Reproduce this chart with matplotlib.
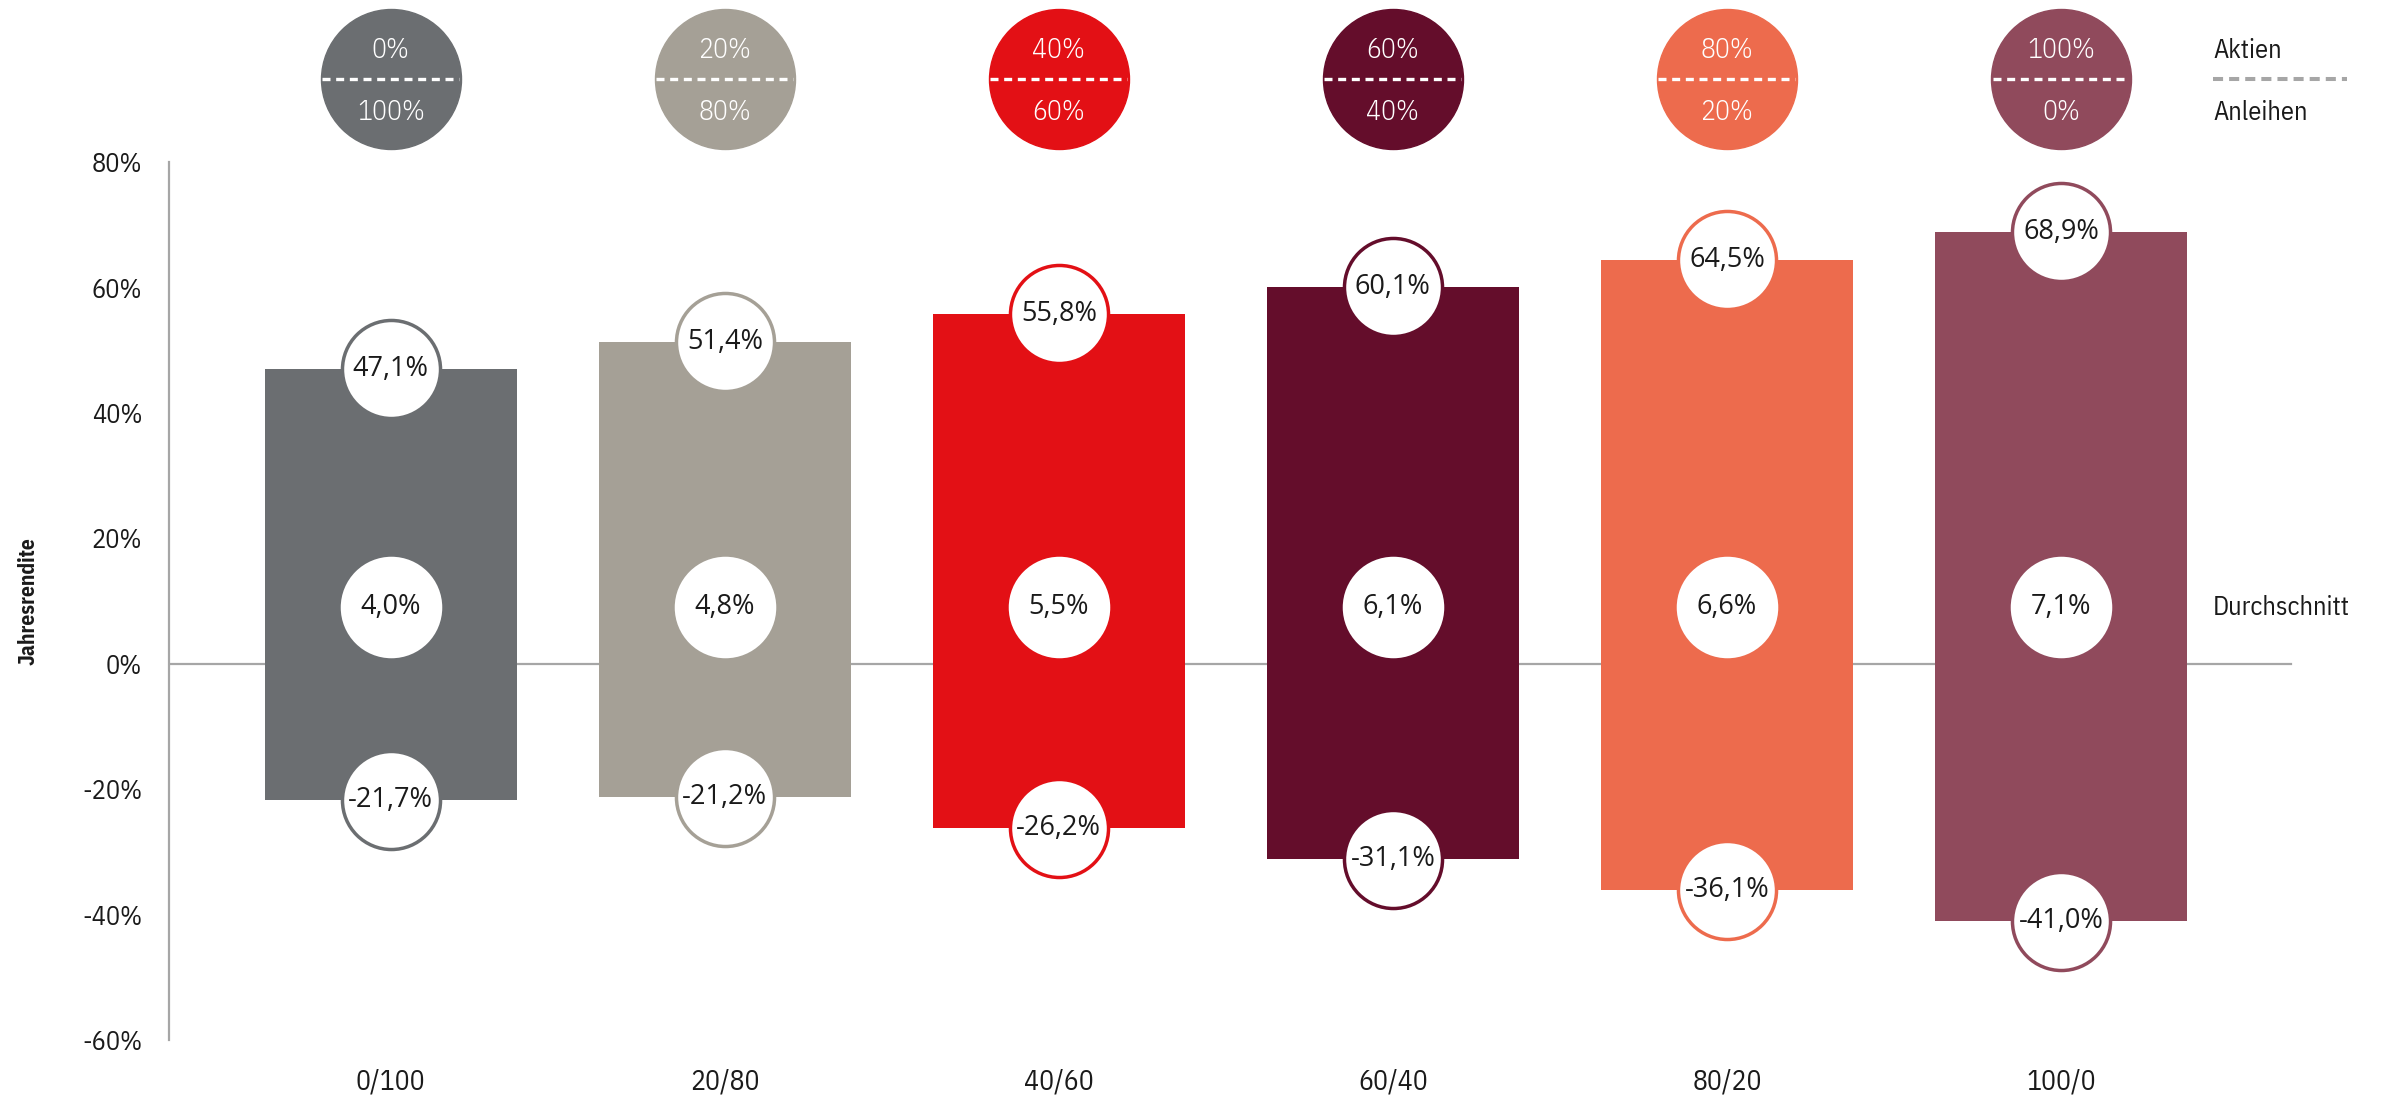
import numpy as np
from matplotlib import pyplot as plt

# data
mixes = ["0/100", "20/80", "40/60", "60/40", "80/20", "100/0"]
stocks = ["0%", "20%", "40%", "60%", "80%", "100%"]
bonds = ["100%", "80%", "60%", "40%", "20%", "0%"]
best = [47.1, 51.4, 55.8, 60.1, 64.5, 68.9]
avg = [4.0, 4.8, 5.5, 6.1, 6.6, 7.1]
worst = [-21.7, -21.2, -26.2, -31.1, -36.1, -41.0]
colors = ["#6b6e71", "#a5a096", "#e31015", "#640d2b", "#ed6b4d", "#904a5c"]
yticks = [-60, -40, -20, 0, 20, 40, 60, 80]

def pct(v):
    return ("%.1f%%" % v).replace(".", ",")

cond = ["IBM Plex Sans Condensed", "DejaVu Sans"]
plain = ["Open Sans", "DejaVu Sans"]
grey = "#a6a6a6"
ink = "#1a1a1a"

fig = plt.figure(figsize=(23.82, 11.02), dpi=100)
ax = fig.add_axes([0.0708, 0, 0.9292, 1])
ax.set_xlim(-0.665, 5.961)
ax.set_ylim(-69.9, 105.9)

x = np.arange(len(mixes))
ax.bar(x, best, width=0.753, color=colors, zorder=2)
ax.bar(x, worst, width=0.753, color=colors, zorder=2)

# zero line and y axis
ax.plot([-0.665, 5.689], [0, 0], color=grey, lw=1.6, zorder=1)
for s in ["top", "right", "bottom"]:
    ax.spines[s].set_visible(False)
ax.spines["left"].set_color(grey)
ax.spines["left"].set_linewidth(1.6)
ax.spines["left"].set_bounds(-60, 80)
ax.set_xticks([])
ax.set_yticks(yticks)
ax.set_yticklabels(["%d%%" % t for t in yticks], fontsize=19, family=cond, color=ink)
ax.tick_params(axis="y", length=0, pad=19)

avg_y = 9.0
top_y = 93.3
for i in range(len(mixes)):
    c = colors[i]
    # value circles
    for yv, lab, ec in [(best[i], pct(best[i]), c), (worst[i], pct(worst[i]), c), (avg_y, pct(avg[i]), "white")]:
        ax.plot(x[i], yv, "o", ms=70.6, mfc="white", mec=ec, mew=2.5, zorder=3)
        ax.text(x[i], yv, lab, ha="center", va="center", fontsize=19.5, family=plain, color=ink, zorder=4)
    # allocation circles on top
    ax.plot(x[i], top_y, "o", ms=100.8, mfc=c, mec=c, zorder=3)
    ax.plot([x[i] - 0.205, x[i] + 0.205], [top_y, top_y], color="white", lw=2.4,
            dashes=(2.4, 1.7), zorder=4)
    ax.text(x[i], 97.9, stocks[i], ha="center", va="center", fontsize=20, fontweight=300,
            family=cond, color="white", zorder=4)
    ax.text(x[i], 87.9, bonds[i], ha="center", va="center", fontsize=20, fontweight=300,
            family=cond, color="white", zorder=4)
    ax.text(x[i], -66.7, mixes[i], ha="center", va="center", fontsize=20, family=cond, color=ink)

# legend on the right
ax.text(5.455, 97.9, "Aktien", ha="left", va="center", fontsize=19, family=cond, color=ink)
ax.text(5.455, 88.0, "Anleihen", ha="left", va="center", fontsize=19, family=cond, color=ink)
ax.plot([5.455, 5.856], [top_y, top_y], color=grey, lw=2.9, dashes=(2.5, 1.5))
ax.text(5.455, avg_y, "Durchschnitt", ha="left", va="center", fontsize=19, family=cond, color=ink)

fig.text(28 / 2382, 1 - 601 / 1102, "Jahresrendite", rotation=90, ha="center", va="center",
         fontsize=15.5, fontweight="bold", family=cond, color=ink)

fig.savefig("out.png", dpi=100)
